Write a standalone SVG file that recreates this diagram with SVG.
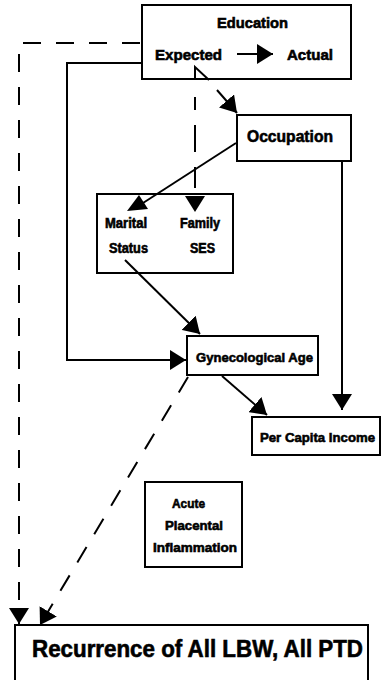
<svg xmlns="http://www.w3.org/2000/svg" width="382" height="680" viewBox="0 0 382 680">
  <style>
    .box { fill: #fff; stroke: #000; stroke-width: 2; }
    .lbl { font-family: "Liberation Sans", Arial, sans-serif; font-weight: bold; fill: #000; stroke: #000; stroke-width: 0.6; }
    .ln { fill: none; stroke: #000; stroke-width: 2; }
    .dash { fill: none; stroke: #000; stroke-width: 2; stroke-dasharray: 18 15; }
    .head { fill: #000; stroke: none; }
  </style>
  <defs>
    <marker id="arrow" markerUnits="userSpaceOnUse" markerWidth="16" markerHeight="20" refX="16" refY="10" orient="auto" viewBox="0 0 16 20">
      <path d="M0,0 L16,10 L0,20 Z" fill="#000" stroke="none"/>
    </marker>
  </defs>
  <rect width="382" height="680" fill="#fff"/>

  <g id="education">
    <rect class="box" x="142" y="5" width="209" height="74"/>
    <text class="lbl" x="217" y="28" font-size="15" textLength="71" lengthAdjust="spacingAndGlyphs">Education</text>
    <text class="lbl" x="155" y="60" font-size="15" textLength="67" lengthAdjust="spacingAndGlyphs">Expected</text>
    <text class="lbl" x="287" y="60" font-size="15" textLength="46" lengthAdjust="spacingAndGlyphs">Actual</text>
    <path class="ln" d="M237,54 H273" marker-end="url(#arrow)"/>
  </g>

  <g id="occupation">
    <rect class="box" x="237" y="115" width="114" height="46"/>
    <text class="lbl" x="247" y="142" font-size="16.5" textLength="86" lengthAdjust="spacingAndGlyphs">Occupation</text>
  </g>

  <g id="marital-family">
    <rect class="box" x="97" y="194" width="136" height="79"/>
    <text class="lbl" x="105" y="228" font-size="14" textLength="42" lengthAdjust="spacingAndGlyphs">Marital</text>
    <text class="lbl" x="180" y="228" font-size="14" textLength="40" lengthAdjust="spacingAndGlyphs">Family</text>
    <text class="lbl" x="109" y="253" font-size="14" textLength="39" lengthAdjust="spacingAndGlyphs">Status</text>
    <text class="lbl" x="190" y="253" font-size="14" textLength="25" lengthAdjust="spacingAndGlyphs">SES</text>
  </g>

  <g id="gynecological-age">
    <rect class="box" x="187" y="336" width="131" height="39"/>
    <text class="lbl" x="196" y="362" font-size="13.5" textLength="117" lengthAdjust="spacingAndGlyphs">Gynecological Age</text>
  </g>

  <g id="per-capita-income">
    <rect class="box" x="252" y="417" width="128" height="38"/>
    <text class="lbl" x="260" y="442" font-size="13.5" textLength="115" lengthAdjust="spacingAndGlyphs">Per Capita Income</text>
  </g>

  <g id="acute-placental-inflammation">
    <rect class="box" x="145" y="482" width="97" height="85"/>
    <text class="lbl" x="172" y="508" font-size="13" textLength="33" lengthAdjust="spacingAndGlyphs">Acute</text>
    <text class="lbl" x="165" y="530" font-size="13" textLength="58" lengthAdjust="spacingAndGlyphs">Placental</text>
    <text class="lbl" x="153" y="552" font-size="13" textLength="84" lengthAdjust="spacingAndGlyphs">Inflammation</text>
  </g>

  <g id="recurrence">
    <rect class="box" x="15" y="625" width="353" height="62"/>
    <text class="lbl" x="32" y="657" font-size="23" textLength="331" lengthAdjust="spacingAndGlyphs">Recurrence of All LBW, All PTD</text>
  </g>

  <g id="connectors">
    <!-- long dashed path from Education down the left edge to the outcome -->
    <path class="dash" d="M140,43 H19 V624" marker-end="url(#arrow)"/>
    <!-- solid path from Education down to Gynecological Age -->
    <path class="ln" d="M142,63 H67 V360 H186" marker-end="url(#arrow)"/>
    <!-- Expected to Family SES (dashed) -->
    <path class="dash" d="M195,97 V212" style="stroke-dasharray: 13 15 27 15 21 30" marker-end="url(#arrow)"/>
    <path class="ln" d="M195,80 V67 L209,80" stroke-width="1.5"/>
    <!-- Education to Occupation -->
    <path class="ln" d="M217,90 L237,113" marker-end="url(#arrow)"/>
    <!-- Occupation to Marital Status -->
    <path class="ln" d="M236,143 L143,203"/>
    <polygon class="head" points="139,195 127,211 148,209"/>
    <!-- Marital Status to Gynecological Age -->
    <path class="ln" d="M125,260 L200,334" marker-end="url(#arrow)"/>
    <!-- Occupation to Per Capita Income -->
    <path class="ln" d="M342,162 V410" marker-end="url(#arrow)"/>
    <!-- Gynecological Age to Per Capita Income -->
    <path class="ln" d="M222,376 L267,415" marker-end="url(#arrow)"/>
    <!-- Gynecological Age to outcome (dashed) -->
    <path class="dash" d="M188,377 L40,625" marker-end="url(#arrow)"/>
  </g>
</svg>
